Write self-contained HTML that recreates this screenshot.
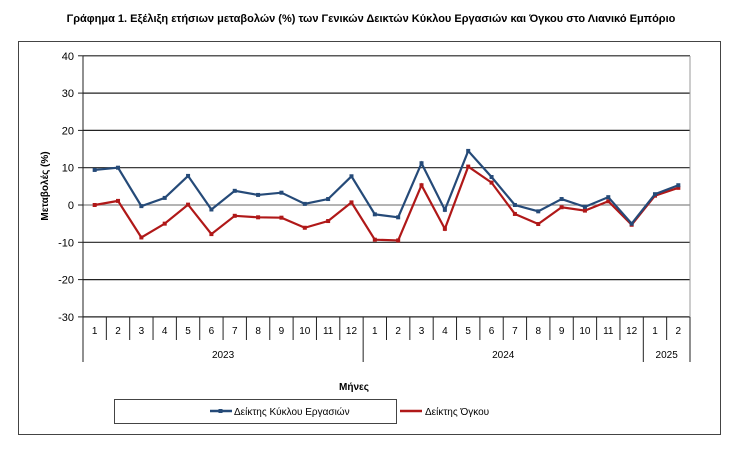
<!DOCTYPE html>
<html><head><meta charset="utf-8"><style>
body{margin:0;background:#fff;width:743px;height:444px;overflow:hidden}
text{font-family:"Liberation Sans","DejaVu Sans",sans-serif}
</style></head><body>
<svg width="743" height="444" xmlns="http://www.w3.org/2000/svg">
<text x="371" y="22" text-anchor="middle" font-size="11" font-weight="bold">Γράφημα 1. Εξέλιξη ετήσιων μεταβολών (%) των Γενικών Δεικτών Κύκλου Εργασιών και Όγκου στο Λιανικό Εμπόριο</text>
<rect x="18.5" y="41.5" width="702" height="393" fill="none" stroke="#444" stroke-width="1"/>
<g id="g"></g>
<text transform="translate(48,186) rotate(-90)" text-anchor="middle" font-size="10" font-weight="bold">Μεταβολές  (%)</text>
<text x="354" y="390" text-anchor="middle" font-size="10" font-weight="bold">Μήνες</text>
<rect x="114.5" y="399.5" width="282" height="24" fill="#fff" stroke="#444"/>
<line x1="210" y1="411" x2="232" y2="411" stroke="#254a78" stroke-width="2.5"/><rect x="218.5" y="409" width="4" height="4" fill="#254a78"/>
<text x="234" y="415" font-size="10">Δείκτης Κύκλου Εργασιών</text>
<line x1="404" y1="411" x2="426" y2="411" stroke="#b01818" stroke-width="2.5" transform="translate(-4,0)"/>
<text x="425" y="415" font-size="10">Δείκτης Όγκου</text>
</svg>
<script>
const g=document.getElementById('g');let s='';
const X0=83,X1=690,T=56,B=317,n=26,w=(X1-X0)/n;
const y=v=>205-v*3.73;
for(let v=-30;v<=40;v+=10){const yy=y(v);
 s+=`<line x1="${X0}" y1="${yy}" x2="${X1}" y2="${yy}" stroke="${v==0?'#888':'#222'}" stroke-width="1.2"/>`;
 s+=`<line x1="${X0-5}" y1="${yy}" x2="${X0}" y2="${yy}" stroke="#222"/>`;
 s+=`<text x="${X0-9}" y="${yy+4}" text-anchor="end" font-size="11">${v}</text>`;}
s+=`<line x1="${X1}" y1="${T}" x2="${X1}" y2="${B}" stroke="#999"/>`;
s+=`<line x1="${X0}" y1="${T}" x2="${X0}" y2="${B}" stroke="#222"/>`;
for(let i=0;i<=n;i++){const xx=X0+i*w;const big=(i==0||i==12||i==24||i==26);
 s+=`<line x1="${xx}" y1="${B}" x2="${xx}" y2="${big?362:340}" stroke="#222"/>`;
 if(i<n){const m=i<12?i+1:i<24?i-11:i-23;s+=`<text x="${xx+w/2}" y="${334}" text-anchor="middle" font-size="10">${m}</text>`;}}
[[6,'2023'],[18,'2024'],[25,'2025']].forEach(([c,t])=>s+=`<text x="${X0+c*w}" y="358" text-anchor="middle" font-size="10">${t}</text>`);
const blue=[9.4,10,-0.3,1.9,7.8,-1.2,3.8,2.7,3.3,0.3,1.6,7.7,-2.5,-3.3,11.2,-1.3,14.5,7.5,0,-1.7,1.6,-0.5,2.1,-5,2.9,5.3];
const red=[0,1.1,-8.7,-5,0.1,-7.8,-2.9,-3.3,-3.4,-6.1,-4.3,0.7,-9.3,-9.5,5.3,-6.4,10.3,6,-2.4,-5.1,-0.6,-1.5,1,-5.3,2.5,4.6];
function ser(d,c){const p=d.map((v,i)=>[X0+(i+.5)*w,y(v)]);
 s+=`<polyline points="${p.map(q=>q.join(',')).join(' ')}" fill="none" stroke="${c}" stroke-width="2.2"/>`;
 p.forEach(q=>s+=`<rect x="${q[0]-2}" y="${q[1]-2}" width="4" height="4" fill="${c}"/>`);}
ser(red,'#b01818');ser(blue,'#254a78');
g.innerHTML=s;
</script>
</body></html>
